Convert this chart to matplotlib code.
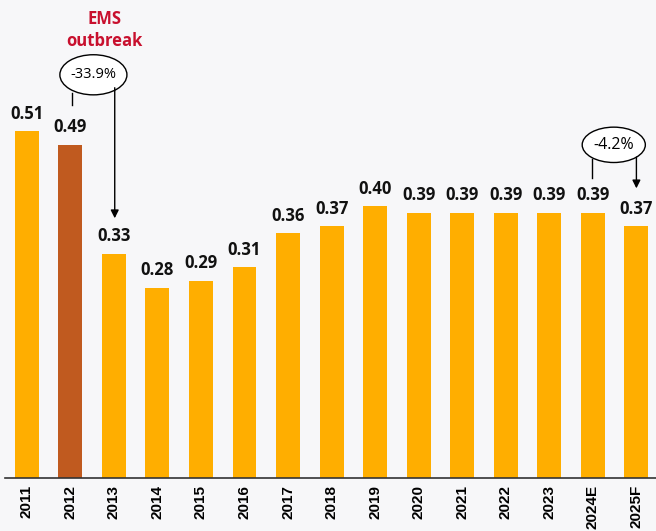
import matplotlib
matplotlib.use("Agg")
import matplotlib.pyplot as plt
from matplotlib.patches import Ellipse

years = ["2011", "2012", "2013", "2014", "2015", "2016", "2017", "2018", "2019",
         "2020", "2021", "2022", "2023", "2024E", "2025F"]
values = [0.51, 0.49, 0.33, 0.28, 0.29, 0.31, 0.36, 0.37, 0.40,
          0.39, 0.39, 0.39, 0.39, 0.39, 0.37]
highlight = "2012"

bg = "#F7F7F9"
fig = plt.figure(figsize=(6.56, 5.31), dpi=100, facecolor=bg)
ax = fig.add_axes([5/656, 53/531, 651/656, 478/531], facecolor=bg)

x = list(range(len(years)))
colors = ["#C05A1F" if y == highlight else "#FFAE00" for y in years]
ax.bar(x, values, width=0.55, color=colors, zorder=2)

for xi, v in zip(x, values):
    ax.annotate(f"{v:.2f}", (xi, v), xytext=(0, 6), textcoords="offset points",
                ha="center", va="bottom", fontsize=12, fontweight="bold",
                family="Open Sans", color="#111111")

ax.set_xlim(-0.5, 14.45)
ax.set_ylim(0, 0.703)
ax.set_xticks(x)
ax.set_xticklabels(years, rotation=90, fontsize=11, fontweight="bold",
                   family="Liberation Sans")
ax.tick_params(axis="x", length=0, pad=5)
ax.set_yticks([])
for s in ["top", "right", "left"]:
    ax.spines[s].set_visible(False)
ax.spines["bottom"].set_color("#333333")
ax.spines["bottom"].set_linewidth(1.2)

# EMS annotation
ax.text(1.79, 0.659, "EMS\noutbreak", ha="center", va="center", color="#C8102E",
        fontsize=12, fontweight="bold", family="Open Sans", linespacing=1.25)
ax.add_patch(Ellipse((1.53, 0.593), 1.54, 0.059, facecolor="white",
                     edgecolor="black", lw=1.0, zorder=3))
ax.text(1.53, 0.593, "-33.9%", ha="center", va="center", fontsize=10.5,
        family="Open Sans", zorder=4)
ax.plot([1.03, 1.03], [0.566, 0.549], color="black", lw=1.0)
ax.annotate("", xy=(2.02, 0.382), xytext=(2.02, 0.574),
            arrowprops=dict(arrowstyle="-|>", color="black", lw=1.0,
                            mutation_scale=12, shrinkA=0, shrinkB=0))

# 2024-2025 annotation
ax.add_patch(Ellipse((13.48, 0.490), 1.45, 0.052, facecolor="white",
                     edgecolor="black", lw=1.0, zorder=3))
ax.text(13.48, 0.490, "-4.2%", ha="center", va="center", fontsize=11.5,
        family="Open Sans", zorder=4)
ax.plot([12.99, 12.99], [0.469, 0.441], color="black", lw=1.0)
ax.annotate("", xy=(14.0, 0.426), xytext=(14.0, 0.472),
            arrowprops=dict(arrowstyle="-|>", color="black", lw=1.0,
                            mutation_scale=12, shrinkA=0, shrinkB=0))

fig.savefig("out.png", dpi=100, facecolor=bg)
